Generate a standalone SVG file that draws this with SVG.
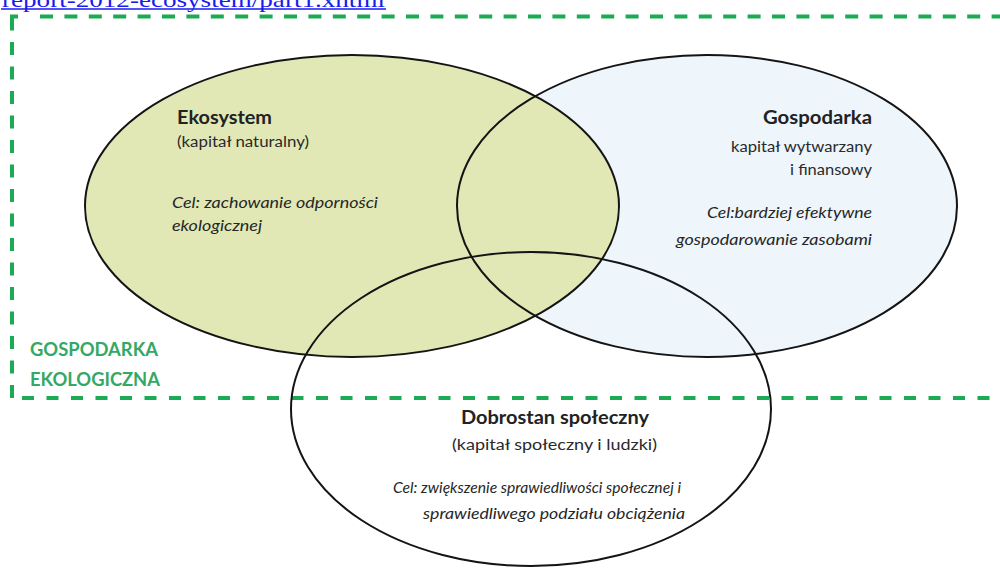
<svg xmlns="http://www.w3.org/2000/svg" width="1000" height="569" viewBox="0 0 1000 569">
  <style>
    .outline { fill: none; stroke: #141414; stroke-width: 2; }
    .title { font-family: Lato, "Open Sans", sans-serif; font-weight: bold; font-size: 19px; fill: #222; }
    .sub { font-family: Lato, "Open Sans", sans-serif; font-size: 14.5px; fill: #2a2a2a; }
    .goal { font-family: Lato, "Open Sans", sans-serif; font-style: italic; font-size: 15px; fill: #262626; }
    .frame { fill: none; stroke: #1daa55; stroke-width: 4; }
    .frame-label { font-family: Lato, "Open Sans", sans-serif; font-weight: bold; font-size: 19px; fill: #34a864; }
    .link { font-family: "Liberation Serif", serif; font-size: 22px; fill: #1a1aee; }
  </style>

  <rect width="1000" height="569" fill="#ffffff"/>

  <!-- source link, cut at the top edge -->
  <g id="source-link">
    <text class="link" x="2" y="6.5" textLength="383" lengthAdjust="spacingAndGlyphs">report-2012-ecosystem/part1.xhtml</text>
    <line x1="1" y1="9" x2="386" y2="9" stroke="#1a1aee" stroke-width="1.5"/>
  </g>

  <!-- area fills, drawn under all outlines -->
  <g id="fills">
    <ellipse cx="707" cy="206" rx="250" ry="151" fill="#eef5fb"/>
    <ellipse cx="352" cy="206" rx="267" ry="151" fill="#e1e8b6"/>
  </g>

  <!-- dashed boundary of the green economy -->
  <g id="green-economy">
    <path class="frame" d="M12,398 V16.5" stroke-dasharray="13 11.5"/>
    <path class="frame" d="M12,30 V16.5 H18"/>
    <path class="frame" d="M40,16.5 H1010" stroke-dasharray="13 11.4"/>
    <path class="frame" d="M22,398 H1010" stroke-dasharray="12 12.5"/>
    <text class="frame-label" x="30" y="356" textLength="128" lengthAdjust="spacingAndGlyphs">GOSPODARKA</text>
    <text class="frame-label" x="30" y="386" textLength="130" lengthAdjust="spacingAndGlyphs">EKOLOGICZNA</text>
  </g>

  <g id="ekosystem">
    <ellipse class="outline" cx="352" cy="206" rx="267" ry="151"/>
    <text class="title" x="177" y="124" textLength="95" lengthAdjust="spacingAndGlyphs">Ekosystem</text>
    <text class="sub" x="177" y="147" textLength="132" lengthAdjust="spacingAndGlyphs">(kapitał naturalny)</text>
    <text class="goal" x="172" y="208" textLength="206" lengthAdjust="spacingAndGlyphs">Cel: zachowanie odporności</text>
    <text class="goal" x="172" y="231" textLength="90" lengthAdjust="spacingAndGlyphs">ekologicznej</text>
  </g>

  <g id="gospodarka">
    <ellipse class="outline" cx="707" cy="206" rx="250" ry="151"/>
    <text class="title" x="872" y="124" text-anchor="end" textLength="109" lengthAdjust="spacingAndGlyphs">Gospodarka</text>
    <text class="sub" x="872" y="152" text-anchor="end" textLength="141" lengthAdjust="spacingAndGlyphs">kapitał wytwarzany</text>
    <text class="sub" x="872" y="175" text-anchor="end" textLength="82" lengthAdjust="spacingAndGlyphs">i finansowy</text>
    <text class="goal" x="872" y="218" text-anchor="end" textLength="165" lengthAdjust="spacingAndGlyphs">Cel:bardziej efektywne</text>
    <text class="goal" x="872" y="245" text-anchor="end" textLength="196" lengthAdjust="spacingAndGlyphs">gospodarowanie zasobami</text>
  </g>

  <g id="dobrostan">
    <ellipse class="outline" cx="531" cy="409" rx="240" ry="157"/>
    <text class="title" x="461" y="424" textLength="188" lengthAdjust="spacingAndGlyphs">Dobrostan społeczny</text>
    <text class="sub" x="452" y="450" textLength="205" lengthAdjust="spacingAndGlyphs">(kapitał społeczny i ludzki)</text>
    <text class="goal" x="393" y="493" textLength="288" lengthAdjust="spacingAndGlyphs">Cel: zwiększenie sprawiedliwości społecznej i</text>
    <text class="goal" x="423" y="519" textLength="262" lengthAdjust="spacingAndGlyphs">sprawiedliwego podziału obciążenia</text>
  </g>
</svg>
